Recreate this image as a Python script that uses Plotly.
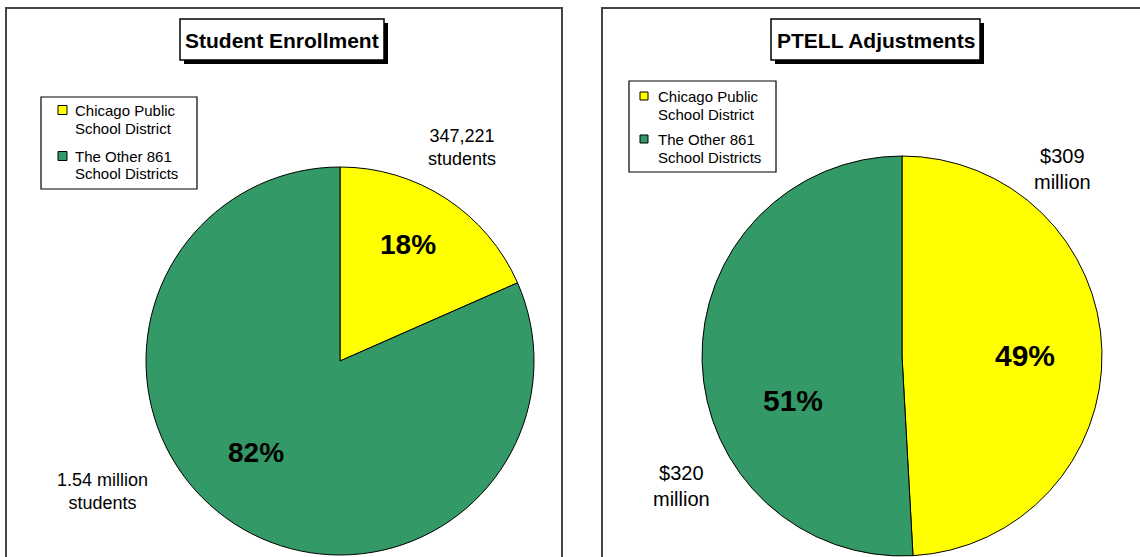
import plotly.graph_objects as go

W, H = 1140, 557

# ---- data ----
categories = ["Chicago Public<br>School District", "The Other 861<br>School Districts"]
colors = ["#FFFF00", "#339966"]
enrollment = [347221, 1540000]
ptell = [309, 320]
enroll_labels = ["347,221<br>students", "1.54 million<br>students"]
ptell_labels = ["$309<br>million", "$320<br>million"]
titles = ["Student Enrollment", "PTELL Adjustments"]

FONT = "Liberation Sans, Arial, sans-serif"


def px(x):
    return x / W


def py(y):
    return min(1.0, max(0.0, 1 - y / H))


def pct_text(vals):
    tot = sum(vals)
    return [f"{round(100 * v / tot)}%" for v in vals]


fig = go.Figure()

# pies: (center x, center y, radius) in pixels
pies = [(340, 361, 194), (902, 356, 200)]
datasets = [enrollment, ptell]
for (cx, cy, r), vals in zip(pies, datasets):
    fig.add_trace(go.Pie(
        labels=categories, values=vals, sort=False, direction="clockwise",
        rotation=0, textinfo="none", hoverinfo="label+value+percent",
        marker=dict(colors=colors, line=dict(color="#000000", width=1)),
        domain=dict(x=[px(cx - r), px(cx + r)], y=[py(cy + r), py(cy - r)]),
        showlegend=False,
    ))

shapes = []
annotations = []


def ann(x, y, text, size, bold=False, xanchor="center"):
    annotations.append(dict(x=px(x), y=py(y), xref="paper", yref="paper",
                            text=f"<b>{text}</b>" if bold else text,
                            showarrow=False, align="center",
                            xanchor=xanchor, yanchor="middle",
                            font=dict(family=FONT, size=size, color="#000000")))


# panel borders
for x0, x1 in [(6, 562), (602, 1160)]:
    shapes.append(dict(type="rect", xref="paper", yref="paper",
                       x0=px(x0), x1=px(x1), y0=-0.05, y1=py(8),
                       line=dict(color="#444444", width=2), fillcolor="rgba(0,0,0,0)"))

# title boxes with shadow
title_boxes = [(180, 384, 19, 60), (771, 980, 19, 60)]
for (x0, x1, y0, y1), t in zip(title_boxes, titles):
    shapes.append(dict(type="rect", xref="paper", yref="paper",
                       x0=px(x0 + 4), x1=px(x1 + 4), y0=py(y1 + 4), y1=py(y0 + 4),
                       line=dict(width=0), fillcolor="#000000"))
    shapes.append(dict(type="rect", xref="paper", yref="paper",
                       x0=px(x0), x1=px(x1), y0=py(y1), y1=py(y0),
                       line=dict(color="#000000", width=1.5), fillcolor="#FFFFFF"))
    ann((x0 + x1) / 2, (y0 + y1) / 2 + 1, t, 21, bold=True)

# custom legends: box, square markers, text lines
legend_boxes = [
    dict(box=(41, 197, 97, 189), sq=(58, 9), text_x=73, lines=[[110, 128], [156, 173]], size=15),
    dict(box=(629, 776, 81, 172), sq=(640, 8), text_x=656, lines=[[96, 114], [139, 157]], size=15),
]
for lb in legend_boxes:
    x0, x1, y0, y1 = lb["box"]
    shapes.append(dict(type="rect", xref="paper", yref="paper",
                       x0=px(x0), x1=px(x1), y0=py(y1), y1=py(y0),
                       line=dict(color="#000000", width=1.2), fillcolor="#FFFFFF"))
    sx, ss = lb["sq"]
    for cat, col, ys in zip(categories, colors, lb["lines"]):
        shapes.append(dict(type="rect", xref="paper", yref="paper",
                           x0=px(sx), x1=px(sx + ss), y0=py(ys[0] + ss / 2), y1=py(ys[0] - ss / 2),
                           line=dict(color="#000000", width=1), fillcolor=col))
        for part, yy in zip(cat.split("<br>"), ys):
            ann(lb["text_x"], yy, part, lb["size"], xanchor="left")

# outside value labels
label_pos = [[(462, 148), (102, 491)], [(1062, 169), (681, 486)]]
label_size = [18, 20]
for labs, poss, sz in zip([enroll_labels, ptell_labels], label_pos, label_size):
    for lab, (x, y) in zip(labs, poss):
        ann(x, y, lab, sz)

# percentage labels
pct_pos = [[(408, 245), (256, 452)], [(1025, 355), (793, 400)]]
pct_size = [28, 30]
for vals, poss, sz in zip(datasets, pct_pos, pct_size):
    for t, (x, y) in zip(pct_text(vals), poss):
        ann(x, y, t, sz, bold=True)

fig.update_layout(
    width=W, height=H,
    margin=dict(l=0, r=0, t=0, b=0),
    paper_bgcolor="#FFFFFF", plot_bgcolor="#FFFFFF",
    shapes=shapes, annotations=annotations,
    showlegend=False,
)

fig.write_html("out.html", config={"displayModeBar": False},
               post_script="document.body.style.margin='0';")
